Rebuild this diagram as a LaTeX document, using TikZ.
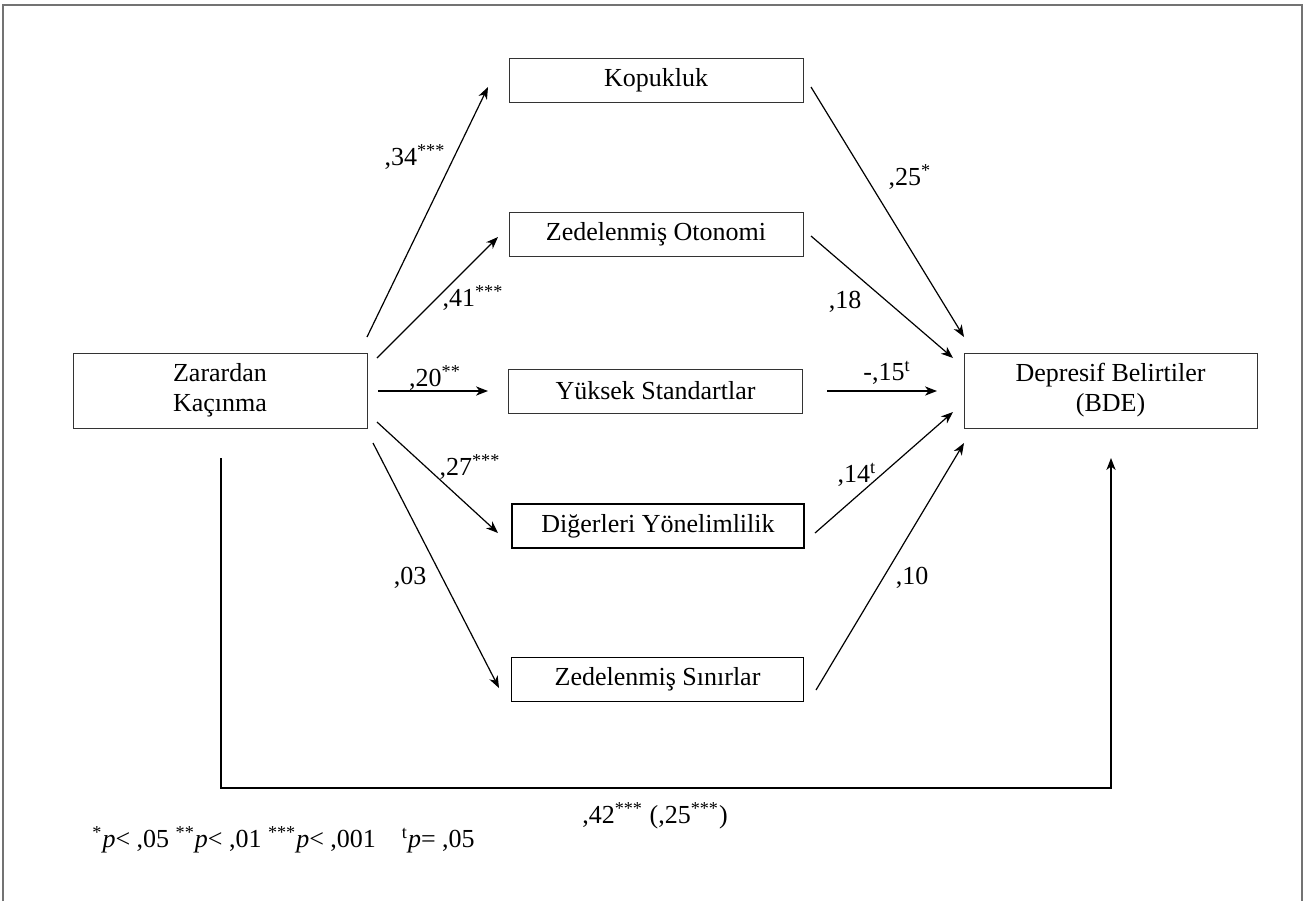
\documentclass[tikz,border=0pt]{standalone}
\usepackage{fontspec}
\setmainfont{Liberation Serif}
\usetikzlibrary{arrows.meta}
\begin{document}
\begin{tikzpicture}[x=0.5pt,y=-0.5pt,
  box/.style={draw=black!80, line width=0.5pt, minimum width=147pt, minimum height=22pt, inner sep=0pt, font=\fontsize{13}{15}\selectfont, align=center},
  boxb/.style={box, draw=black, line width=0.8pt},
  arr/.style={line width=0.6pt, -{Stealth[length=6pt,width=4.6pt,inset=1.8pt]}},
  lab/.style={font=\fontsize{13}{15}\selectfont, inner sep=0pt},
  frame/.style={draw=black!55, line width=1pt}]
\useasboundingbox (0,0) rectangle (1307,901);
\draw[frame] (3,901) -- (3,5) -- (1302,5) -- (1302,901);

\node[box, minimum height=37.5pt] (zk) at (220,390.5) {Zarardan\\Kaçınma};
\node[box] (kop) at (656,80) {Kopukluk};
\node[box] (oto) at (656,234) {Zedelenmiş Otonomi};
\node[box] (yuk) at (655.5,391) {Yüksek Standartlar};
\node[boxb, minimum width=146pt] (dig) at (658,526) {Diğerleri Yönelimlilik};
\node[boxb, minimum width=146pt] (sin) at (657.5,679.5) {Zedelenmiş Sınırlar};
\node[box, minimum height=37.5pt, minimum width=146.5pt] (dep) at (1110.5,390.5) {Depresif Belirtiler\\(BDE)};

% free ends
\coordinate (s1) at (367,337); \coordinate (e1) at (488,87);
\coordinate (s2) at (377,358); \coordinate (e2) at (498,237);
\coordinate (s3) at (378,391); \coordinate (e3) at (488,391);
\coordinate (s4) at (377,422); \coordinate (e4) at (498,533);
\coordinate (s5) at (373,443); \coordinate (e5) at (499,688);
\coordinate (s6) at (811,87);  \coordinate (e6) at (964,337);
\coordinate (s7) at (811,236); \coordinate (e7) at (953,358);
\coordinate (s8) at (827,391); \coordinate (e8) at (937,391);
\coordinate (s9) at (815,533); \coordinate (e9) at (953,412);
\coordinate (s10) at (816,690); \coordinate (e10) at (964,443);
\coordinate (s11) at (221,458); \coordinate (c11a) at (221,788);
\coordinate (c11b) at (1111,788); \coordinate (e11) at (1111,458);

\draw[arr] (s1) -- (e1);
\draw[arr] (s2) -- (e2);
\draw[arr] (s3) -- (e3);
\draw[arr] (s4) -- (e4);
\draw[arr] (s5) -- (e5);
\draw[arr] (s6) -- (e6);
\draw[arr] (s7) -- (e7);
\draw[arr] (s8) -- (e8);
\draw[arr] (s9) -- (e9);
\draw[arr] (s10) -- (e10);
\draw[arr] (s11) -- (c11a) -- (c11b) -- (e11);

\node[lab] (l1) at (415,157) {,34\textsuperscript{***}};
\node[lab] (l2) at (473,298) {,41\textsuperscript{***}};
\node[lab] (l3) at (435,378) {,20\textsuperscript{**}};
\node[lab] (l4) at (470,467) {,27\textsuperscript{***}};
\node[lab] (l5) at (410,578) {,03};
\node[lab] (l6) at (910,177) {,25\textsuperscript{*}};
\node[lab] (l7) at (845,302) {,18};
\node[lab] (l8) at (887,373) {-,15\textsuperscript{t}};
\node[lab] (l9) at (857,475) {,14\textsuperscript{t}};
\node[lab] (l10) at (912,578) {,10};
\node[lab] (l11) at (655,816) {,42\textsuperscript{***} (,25\textsuperscript{***})};
\node[lab, anchor=west] (fn) at (92,840) {\textsuperscript{*}\textit{p}< ,05 \textsuperscript{**}\textit{p}< ,01 \textsuperscript{***}\textit{p}< ,001\quad\textsuperscript{t}\textit{p}= ,05};
\end{tikzpicture}
\end{document}
